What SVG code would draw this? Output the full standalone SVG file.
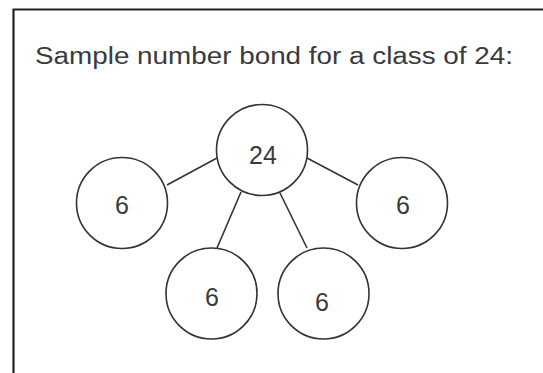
<svg xmlns="http://www.w3.org/2000/svg" width="543" height="373" viewBox="0 0 543 373">
<style>
.frame{fill:none;stroke:#222;stroke-width:2.2}
.node circle{fill:#fff;stroke:#333;stroke-width:1.6}
.node text,.title{font-family:"Liberation Sans",Arial,sans-serif;fill:#3a3a3a}
.title{font-size:23px}
.node text{text-anchor:middle;font-size:25px}
#connectors line{stroke:#333;stroke-width:1.6}
</style>
<rect width="543" height="373" fill="#fff"/>
<path class="frame" d="M13.5,373 V9.5 H543"/>
<text class="title" x="35" y="64" textLength="478" lengthAdjust="spacingAndGlyphs">Sample number bond for a class of 24:</text>
<g id="connectors">
<line x1="167" y1="185" x2="217" y2="158"/>
<line x1="307" y1="158" x2="358" y2="185"/>
<line x1="241" y1="192" x2="217" y2="248"/>
<line x1="280" y1="193" x2="307" y2="248"/>
</g>
<g id="n24" class="node"><circle cx="262" cy="150" r="45.5"/><text x="263" y="164">24</text></g>
<g id="nL" class="node"><circle cx="122" cy="203" r="45.5"/><text x="122" y="214">6</text></g>
<g id="nR" class="node"><circle cx="402" cy="203" r="45.5"/><text x="403" y="214">6</text></g>
<g id="nBL" class="node"><circle cx="211.5" cy="293.5" r="45.5"/><text x="212" y="306">6</text></g>
<g id="nBR" class="node"><circle cx="323.5" cy="293.5" r="45.5"/><text x="322" y="311">6</text></g>
</svg>
